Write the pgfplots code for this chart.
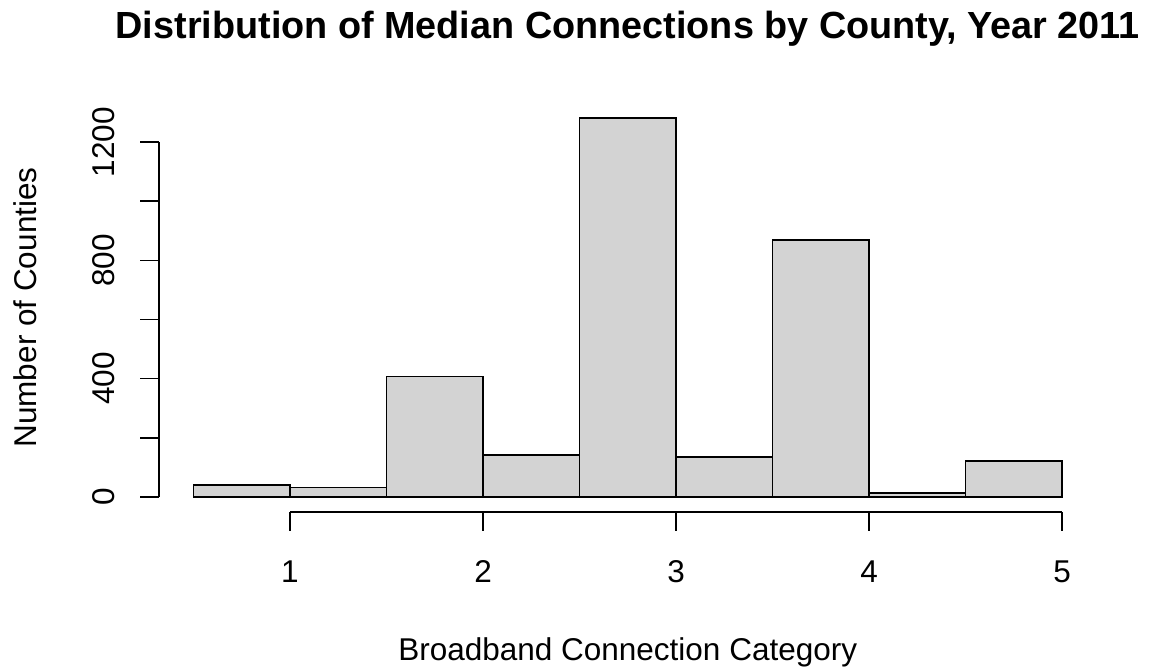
\documentclass[border=0pt]{standalone}
\usepackage{fontspec}
\setmainfont{Liberation Sans}
\usepackage{pgfplots}
\pgfplotsset{compat=1.18}
\definecolor{barfill}{HTML}{D3D3D3}
\begin{document}
\begin{tikzpicture}
\useasboundingbox (0,0) rectangle (1159pt,669pt);
\begin{axis}[
  at={(158.76pt,156.8pt)}, anchor=south west,
  scale only axis, width=938pt, height=409.5pt,
  xmin=0.32, xmax=5.18, ymin=-51.3, ymax=1333,
  axis line style={draw=none},
  major tick length=0pt,
  xtick={1,2,3,4,5},
  ytick={0,200,400,600,800,1000,1200},
  yticklabels={0,,400,,800,,1200},
  /pgf/number format/assume math mode=true,
  tick label style={font=\fontsize{31.5}{38}\selectfont},
  xticklabel style={anchor=base, yshift=-69.8pt},
  yticklabel style={xshift=-44pt, rotate=90, anchor=base},
  label style={font=\fontsize{31.5}{38}\selectfont},
  xlabel={Broadband Connection Category},
  ylabel={Number of Counties},
  xlabel style={at={(axis description cs:0.5,0)}, anchor=base, yshift=-147.8pt},
  ylabel style={at={(axis description cs:-0.130,0.5)}, anchor=base, rotate=0},
  title={Distribution of Median Connections by County, Year 2011},
  title style={font=\bfseries\fontsize{37.8}{45}\selectfont, at={(axis description cs:0.5,1)}, anchor=base, yshift=57.7pt},
  clip=false,
]
\addplot[ybar interval, fill=barfill, draw=black, line width=1.6pt] coordinates {
(0.5,40.6) (1,32.7) (1.5,408) (2,142) (2.5,1282) (3,135) (3.5,869) (4,14.5) (4.5,121) (5,0)
};
% R-style axis lines and ticks
\draw[line width=1.6pt] (axis cs:1,-51.3) -- (axis cs:5,-51.3);
\draw[line width=1.6pt] (axis cs:1,-51.3) -- ++(0pt,-18.5pt);
\draw[line width=1.6pt] (axis cs:2,-51.3) -- ++(0pt,-18.5pt);
\draw[line width=1.6pt] (axis cs:3,-51.3) -- ++(0pt,-18.5pt);
\draw[line width=1.6pt] (axis cs:4,-51.3) -- ++(0pt,-18.5pt);
\draw[line width=1.6pt] (axis cs:5,-51.3) -- ++(0pt,-18.5pt);
\draw[line width=1.6pt] (axis cs:0.32,0) -- (axis cs:0.32,1200);
\draw[line width=1.6pt] (axis cs:0.32,0) -- ++(-18.5pt,0pt);
\draw[line width=1.6pt] (axis cs:0.32,200) -- ++(-18.5pt,0pt);
\draw[line width=1.6pt] (axis cs:0.32,400) -- ++(-18.5pt,0pt);
\draw[line width=1.6pt] (axis cs:0.32,600) -- ++(-18.5pt,0pt);
\draw[line width=1.6pt] (axis cs:0.32,800) -- ++(-18.5pt,0pt);
\draw[line width=1.6pt] (axis cs:0.32,1000) -- ++(-18.5pt,0pt);
\draw[line width=1.6pt] (axis cs:0.32,1200) -- ++(-18.5pt,0pt);
\end{axis}
\end{tikzpicture}
\end{document}
